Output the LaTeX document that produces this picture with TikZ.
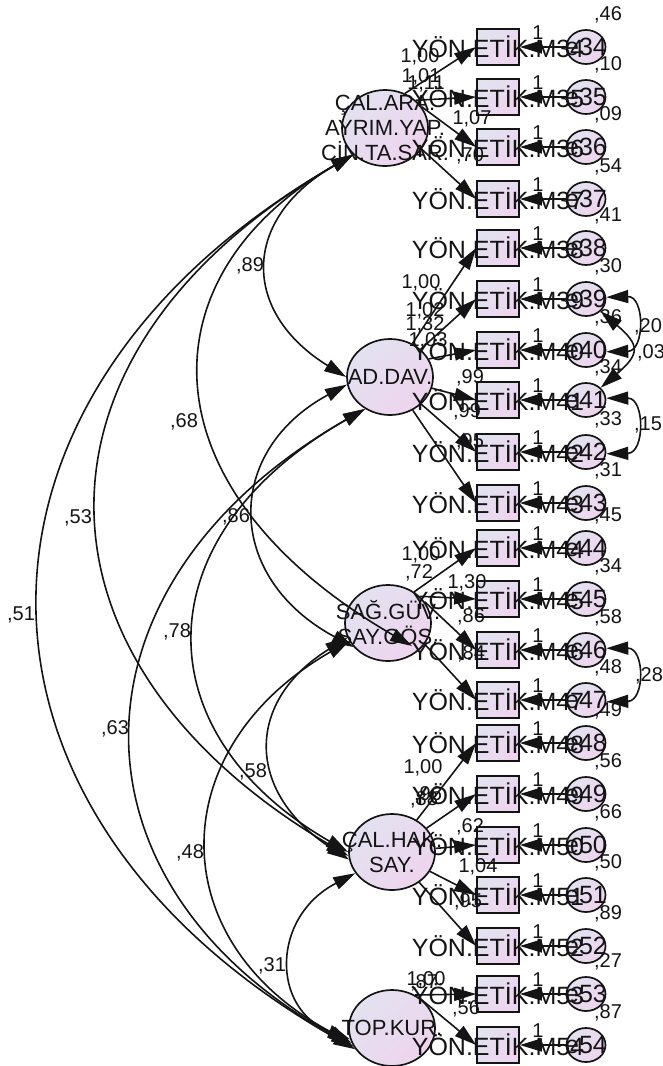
\documentclass[tikz,border=0pt]{standalone}
\usepackage{fontspec}
\setmainfont{Liberation Sans}
\usetikzlibrary{arrows.meta,shapes.geometric}
\definecolor{lavA}{RGB}{226,226,240}
\definecolor{lavB}{RGB}{238,212,238}
\definecolor{ink}{RGB}{20,20,20}
\begin{document}
\begin{tikzpicture}[x=1pt,y=1pt,
  shp/.style={draw=ink, line width=1.7pt, shade, top color=lavA, bottom color=lavB, shading angle=45, inner sep=0},
  obs/.style={shp, rectangle, minimum width=42pt, minimum height=36pt},
  err/.style={shp, ellipse, minimum width=39pt, minimum height=34pt},
  lat/.style={shp, ellipse, minimum width=86pt, minimum height=76pt},
  vtxt/.style={font=\fontsize{25}{26}\selectfont, text=ink, inner sep=0},
  ltxt/.style={font=\fontsize{22}{25}\selectfont, text=ink, align=center, inner sep=0},
  num/.style={font=\fontsize{20}{21}\selectfont, text=ink, inner sep=0},
  arr/.style={draw=ink, line width=1.6pt, -{Triangle[length=22pt,width=13pt]}},
  cov/.style={draw=ink, line width=1.6pt, {Triangle[length=22pt,width=13pt]}-{Triangle[length=22pt,width=13pt]}}
]
\path[use as bounding box] (0,0) rectangle (663,-1066);

% observed boxes and error terms
\foreach \n/\y in {34/47,35/97,36/147,37/199,38/248,39/299,40/350,41/400,42/452,43/503,44/548,45/599,46/650,47/700,48/743,49/794,50/845,51/895,52/946,53/994,54/1045}{
  \node[obs] (b\n) at (498,-\y) {};
  \node[err] (e\n) at (586,-\y) {};
}
% latent variables
\node[lat] (L1) at (385,-128) {};
\node[lat] (L2) at (390,-377) {};
\node[lat] (L3) at (388,-623) {};
\node[lat] (L4) at (392,-852) {};
\node[lat] (L5) at (392,-1028) {};
\coordinate (L3in) at (412,-646);

% texts
\foreach \n in {34,...,54}{
  \node[vtxt] (tb\n) at (b\n) {YÖN.ETİK.M\n};
  \node[vtxt] (te\n) at (e\n) {e\n};
}
\node[ltxt] (tL1) at (L1) {ÇAL.ARA.\\AYRIM.YAP.\\CİN.TA.SAR.};
\node[ltxt] (tL2) at (L2) {AD.DAV.};
\node[ltxt] (tL3) at (L3) {SAĞ.GÜV.\\SAY.GÖS.};
\node[ltxt] (tL4) at (L4) {ÇAL.HAK.\\SAY.};
\node[ltxt] (tL5) at (L5) {TOP.KUR.};

% error -> observed
\foreach \n in {34,...,54}{
  \draw[arr] (e\n) -- (b\n);
  \node[num] (one\n) at ([shift={(40,14)}]b\n) {1};
}

% loadings
\draw[arr] (L1.60) -- (b34.west);
\draw[arr] (L1.42) -- (b35.west);
\draw[arr] (L1.30) -- (b36.west);
\draw[arr] (L1.330) -- (b37.west);
\draw[arr] (L2) -- (b38.west);
\draw[arr] (L2) -- (b39.west);
\draw[arr] (L2.25) -- (b40.west);
\draw[arr] (L2) -- (b41.west);
\draw[arr] (L2) -- (b42.west);
\draw[arr] (L2) -- (b43.west);
\draw[arr] (L3.50) -- (b44.west);
\draw[arr] (L3.40) -- (b45.west);
\draw[arr] (L3.30) -- (b46.west);
\draw[arr] (L3.330) -- (b47.west);
\draw[arr] (L4) -- (b48.west);
\draw[arr] (L4) -- (b49.west);
\draw[arr] (L4) -- (b50.west);
\draw[arr] (L4) -- (b51.west);
\draw[arr] (L4) -- (b52.west);
\draw[arr] (L5.55) -- (b53.west);
\draw[arr] (L5.50) -- (b54.west);

% latent covariances
\draw[cov] (L1.220) .. controls (241,-219) and (241,-312) .. (L2.180);
\draw[cov] (L1.220) .. controls (142,-276) and (142,-490) .. (L3in);
\draw[cov] (L1.220) .. controls (14.5,-350) and (14.5,-659) .. (L4.185);
\draw[cov] (L1.220) .. controls (-64,-395) and (-64,-812) .. (L5.210);
\draw[cov] (L2.190) .. controls (224,-451) and (224,-577) .. (L3.215);
\draw[cov] (L2.232) .. controls (142,-536) and (142,-733) .. (L4.180);
\draw[cov] (L2.232) .. controls (58,-584) and (58,-884) .. (L5.205);
\draw[cov] (L3.200) .. controls (245,-701) and (245,-792) .. (L4.190);
\draw[cov] (L3.205) .. controls (161.5,-749) and (161.5,-943) .. (L5.200);
\draw[cov] (L4.210) .. controls (271,-917) and (271,-1009) .. (L5.195);

% error covariances
\draw[cov] (e39.5) .. controls (645,-296) and (645,-351) .. (e40.-5);
\draw[cov] (e39.-40) .. controls (640,-345) and (640,-354) .. (e41.40);
\draw[cov] (e41.5) .. controls (645,-398) and (645,-453) .. (e42.-5);
\draw[cov] (e46.5) .. controls (645,-648) and (645,-701) .. (e47.-5);

% error variances
\foreach \n/\v in {34/46,35/10,36/09,37/54,38/41,39/30,40/36,41/34,42/33,43/31,44/45,45/34,46/58,47/48,48/49,49/56,50/66,51/50,52/89,53/27,54/87}{
  \node[num] (v\n) at ([shift={(22,32)}]e\n) {,\v};
}

% loadings and latent variances
\node[num] (a1) at (420,-57) {1,00};
\node[num] (a2) at (421,-77) {1,01};
\node[num] (a3) at (426,-84) {1,11};
\node[num] (a4) at (472,-119) {1,07};
\node[num] (a5) at (470,-156) {,70};
\node[num] (d1) at (421,-283) {1,00};
\node[num] (d2) at (425,-311) {1,02};
\node[num] (d3) at (425,-325) {1,32};
\node[num] (d4) at (428,-341) {1,03};
\node[num] (d5) at (470,-378) {,99};
\node[num] (d6) at (467,-412) {,99};
\node[num] (d7) at (470,-442) {,95};
\node[num] (s1) at (421,-555) {1,00};
\node[num] (s2) at (419,-573) {,72};
\node[num] (s3) at (467,-583) {1,30};
\node[num] (s4) at (471,-617) {,86};
\node[num] (s5) at (471,-654) {,84};
\node[num] (h1) at (423,-768) {1,00};
\node[num] (h2) at (424,-800) {,88};
\node[num] (h3) at (428,-795) {,96};
\node[num] (h4) at (470,-827) {,62};
\node[num] (h5) at (478,-867) {1,04};
\node[num] (h6) at (468,-902) {,95};
\node[num] (k1) at (426,-980) {1,00};
\node[num] (k2) at (424,-983) {,87};
\node[num] (k3) at (466,-1009) {,56};

% covariance labels
\node[num] (c89) at (250,-266) {,89};
\node[num] (c68) at (184,-422) {,68};
\node[num] (c53) at (78,-518) {,53};
\node[num] (c51) at (21,-615) {,51};
\node[num] (c86) at (236,-517) {,86};
\node[num] (c78) at (177,-632) {,78};
\node[num] (c63) at (115,-729) {,63};
\node[num] (c58) at (253,-772) {,58};
\node[num] (c48) at (190,-853) {,48};
\node[num] (c31) at (272,-966) {,31};
\node[num] (c20) at (648,-327) {,20};
\node[num] (c03) at (651,-353) {,03};
\node[num] (c15) at (648,-425) {,15};
\node[num] (c28) at (649,-676) {,28};
\end{tikzpicture}
\end{document}
